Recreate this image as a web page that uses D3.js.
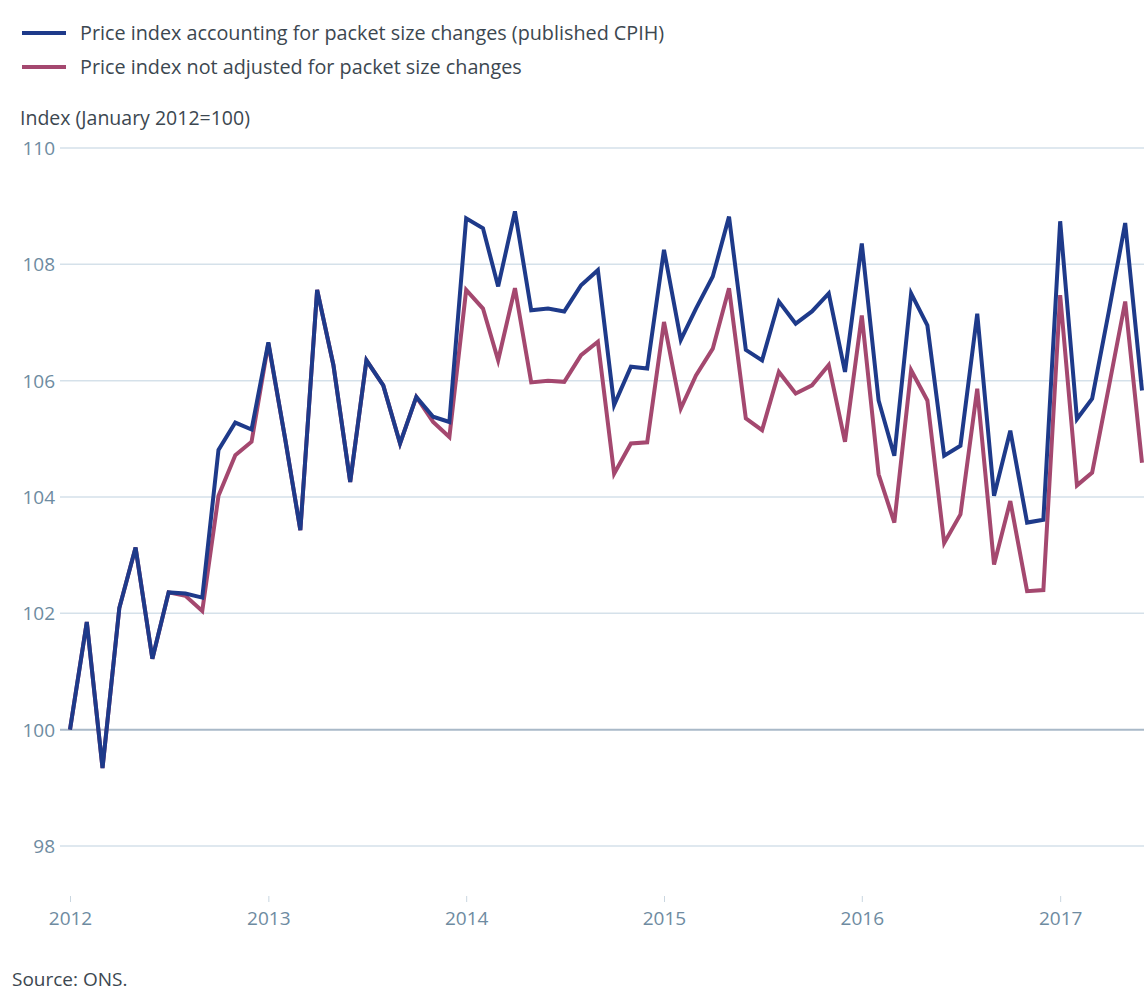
<!DOCTYPE html>
<html>
<head>
<meta charset="utf-8">
<script src="https://cdn.jsdelivr.net/npm/d3@7"></script>
<style>
  body { margin: 0; background: #fff; }
  svg { display: block; font-family: "Open Sans", sans-serif; }
</style>
</head>
<body>
<svg id="chart"></svg>
<script>
var width = 1144;
var height = 994;

// monthly observations, Jan 2012 .. Jun 2017
var months = [];
for (var m = 0; m < 66; m++) months.push(new Date(2012, m, 1));

var cpih = [
  100.0, 101.85, 99.34, 102.09, 103.13, 101.22, 102.36, 102.34, 102.27, 104.81, 105.28, 105.16,
  106.66, 105.0, 103.43, 107.56, 106.27, 104.26, 106.35, 105.92, 104.92, 105.72, 105.38, 105.29,
  108.79, 108.62, 107.62, 108.91, 107.21, 107.24, 107.19, 107.64, 107.90, 105.58, 106.24, 106.21,
  108.25, 106.70, 107.24, 107.79, 108.82, 106.53, 106.35, 107.36, 106.98, 107.19, 107.50, 106.15,
  108.36, 105.66, 104.71, 107.50, 106.95, 104.71, 104.88, 107.15, 104.02, 105.14, 103.56, 103.61,
  108.74, 105.34, 105.69, 107.2, 108.71, 105.83
];
var notAdjusted = [
  100.0, 101.85, 99.34, 102.09, 103.13, 101.22, 102.36, 102.30, 102.04, 104.02, 104.72, 104.95,
  106.64, 105.0, 103.43, 107.56, 106.27, 104.26, 106.35, 105.92, 104.92, 105.72, 105.29, 105.03,
  107.56, 107.24, 106.35, 107.59, 105.97, 106.0, 105.98, 106.44, 106.67, 104.40, 104.92, 104.94,
  107.01, 105.52, 106.09, 106.55, 107.59, 105.35, 105.15, 106.15, 105.78, 105.92, 106.27, 104.95,
  107.12, 104.39, 103.56, 106.18, 105.66, 103.21, 103.70, 105.86, 102.84, 103.93, 102.38, 102.40,
  107.47, 104.20, 104.42, 105.9, 107.36, 104.59
];

var seriesNames = [
  "Price index accounting for packet size changes (published CPIH)",
  "Price index not adjusted for packet size changes"
];
var seriesColors = ["#1e3a8a", "#a4486f"];
var yTicks = [98, 100, 102, 104, 106, 108, 110];
var xTickYears = [2012, 2013, 2014, 2015, 2016, 2017];

var svg = d3.select("#chart")
  .attr("width", width)
  .attr("height", height);

var x = d3.scaleTime()
  .domain([new Date(2012, 0, 1), new Date(2017, 5, 1)])
  .range([70, 1142]);

var y = d3.scaleLinear()
  .domain([98, 110])
  .range([846, 148]);

// legend
var legend = svg.append("g");
seriesNames.forEach(function (name, i) {
  var ly = 33 + i * 34;
  legend.append("line")
    .attr("x1", 22).attr("x2", 66)
    .attr("y1", ly).attr("y2", ly)
    .attr("stroke", seriesColors[i])
    .attr("stroke-width", 4);
  legend.append("text")
    .attr("x", 80).attr("y", ly + 7)
    .attr("font-size", 19.8)
    .attr("fill", "#3c4750")
    .text(name);
});

svg.append("text")
  .attr("x", 20).attr("y", 125)
  .attr("font-size", 19.5)
  .attr("fill", "#3c4750")
  .text("Index (January 2012=100)");

// gridlines + y labels
var grid = svg.append("g");
grid.selectAll("line")
  .data(yTicks)
  .enter().append("line")
  .attr("x1", 60).attr("x2", width)
  .attr("y1", function (d) { return y(d); })
  .attr("y2", function (d) { return y(d); })
  .attr("stroke", function (d) { return d === 100 ? "#a9b9c8" : "#d5e1ea"; })
  .attr("stroke-width", function (d) { return d === 100 ? 2 : 1.5; });

grid.selectAll("text")
  .data(yTicks)
  .enter().append("text")
  .attr("x", 55)
  .attr("y", function (d) { return y(d) + 7; })
  .attr("text-anchor", "end")
  .attr("font-size", 19)
  .attr("fill", "#6e8ba1")
  .text(function (d) { return d; });

// x axis
var xAxis = d3.axisBottom(x)
  .tickValues(xTickYears.map(function (yr) { return new Date(yr, 0, 1); }))
  .tickFormat(d3.timeFormat("%Y"))
  .tickSize(6)
  .tickSizeOuter(8);

var gx = svg.append("g")
  .attr("transform", "translate(0,896)")
  .call(xAxis);
gx.select(".domain")
  .attr("stroke", "#7f98ac")
  .attr("stroke-width", 2)
  .attr("d", "M69,904V896H1142V904");
gx.selectAll(".tick line").attr("stroke", "#c9d6e0").attr("y2", 6);
gx.selectAll(".tick text")
  .attr("font-family", "Open Sans, sans-serif")
  .attr("font-size", 19)
  .attr("fill", "#6e8ba1")
  .attr("dy", "1.05em");

// lines
var line = d3.line()
  .x(function (d, i) { return x(months[i]); })
  .y(function (d) { return y(d); });

[notAdjusted, cpih].forEach(function (vals, k) {
  svg.append("path")
    .datum(vals)
    .attr("fill", "none")
    .attr("stroke", k === 0 ? seriesColors[1] : seriesColors[0])
    .attr("stroke-width", 4)
    .attr("stroke-linejoin", "miter")
    .attr("d", line);
});

svg.append("text")
  .attr("x", 12).attr("y", 986)
  .attr("font-size", 19)
  .attr("fill", "#3c4750")
  .text("Source: ONS.");
</script>
</body>
</html>
